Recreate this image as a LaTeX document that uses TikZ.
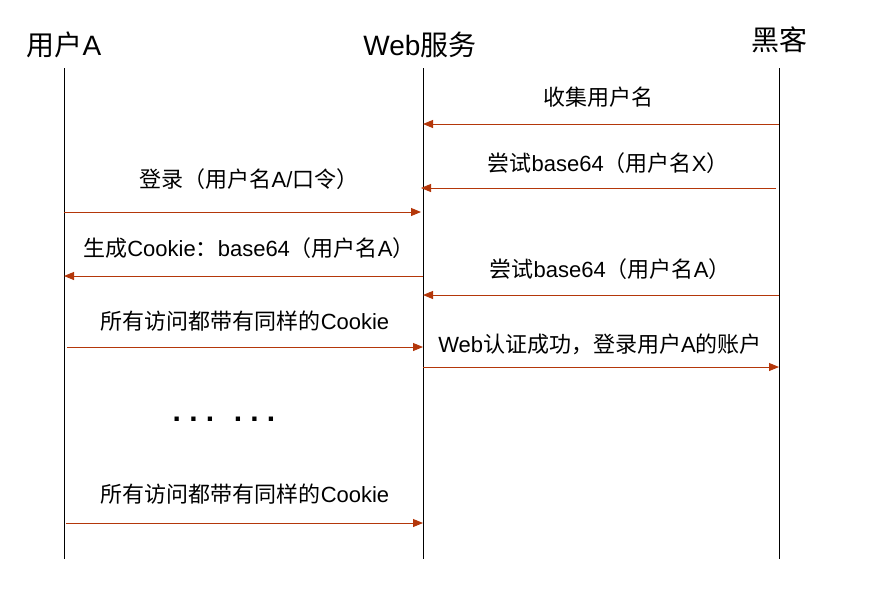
\documentclass[tikz,border=0pt]{standalone}
\usepackage{fontspec}
\setmainfont{Liberation Sans}
\newfontfamily\cjk{Noto Sans CJK SC}
\usetikzlibrary{arrows.meta}
\definecolor{msgred}{HTML}{B4370A}
\begin{document}
\begin{tikzpicture}[x=1pt,y=-1pt,
  lifeline/.style={draw=black,line width=0.9pt},
  msg/.style={draw=msgred,line width=0.9pt,-{Triangle[length=10pt,width=8pt]}},
  head/.style={anchor=base,inner sep=0pt,font=\fontsize{28}{30}\selectfont},
  lbl/.style={anchor=base,inner sep=0pt,font=\fontsize{22}{24}\selectfont}]
\useasboundingbox (0,0) rectangle (872,595);
% headings
\node[head] (hA) at (64,55) {{\cjk 用户}A};
\node[head] (hW) at (420,55) {Web{\cjk 服务}};
\node[head] (hH) at (779,50) {{\cjk 黑客}};
% lifelines
\coordinate (At) at (64,68);  \coordinate (Ab) at (64,559);
\coordinate (Wt) at (423,68); \coordinate (Wb) at (423,559);
\coordinate (Ht) at (779,68); \coordinate (Hb) at (779,559);
\draw[lifeline] (At) -- (Ab);
\draw[lifeline] (Wt) -- (Wb);
\draw[lifeline] (Ht) -- (Hb);
% message end points
\coordinate (m1s) at (779,124); \coordinate (m1e) at (423,124);
\coordinate (m2s) at (776,188); \coordinate (m2e) at (421,188);
\coordinate (m3s) at (64,212);  \coordinate (m3e) at (421,212);
\coordinate (m4s) at (423,276); \coordinate (m4e) at (64,276);
\coordinate (m5s) at (779,295); \coordinate (m5e) at (423,295);
\coordinate (m6s) at (67,347);  \coordinate (m6e) at (423,347);
\coordinate (m7s) at (423,367); \coordinate (m7e) at (779,367);
\coordinate (m8s) at (66,523);  \coordinate (m8e) at (423,523);
% labels
\node[lbl] (l1) at (598,105) {{\cjk 收集用户名}};
\node[lbl] (l2) at (608,171) {{\cjk 尝试}base64{\cjk （用户名}X{\cjk ）}};
\node[lbl] (l3) at (249,187) {{\cjk 登录（用户名}A/{\cjk 口令）}};
\node[lbl] (l4) at (249,256) {{\cjk 生成}Cookie{\cjk ：}base64{\cjk （用户名}A{\cjk ）}};
\node[lbl] (l5) at (610,277) {{\cjk 尝试}base64{\cjk （用户名}A{\cjk ）}};
\node[lbl] (l6) at (245,329) {{\cjk 所有访问都带有同样的}Cookie};
\node[lbl] (l7) at (600,352) {Web{\cjk 认证成功，登录用户}A{\cjk 的账户}};
\node[lbl] (l8) at (245,502) {{\cjk 所有访问都带有同样的}Cookie};
\node[anchor=base,inner sep=0pt,font=\fontsize{30}{32}\selectfont\bfseries] (dots) at (224,421)
  {.\hspace{8.2pt}.\hspace{8.2pt}.\hspace{19.7pt}.\hspace{8.2pt}.\hspace{8.2pt}.};
% messages
\draw[msg] (m1s) -- (m1e);
\draw[msg] (m2s) -- (m2e);
\draw[msg] (m3s) -- (m3e);
\draw[msg] (m4s) -- (m4e);
\draw[msg] (m5s) -- (m5e);
\draw[msg] (m6s) -- (m6e);
\draw[msg] (m7s) -- (m7e);
\draw[msg] (m8s) -- (m8e);
\end{tikzpicture}
\end{document}
